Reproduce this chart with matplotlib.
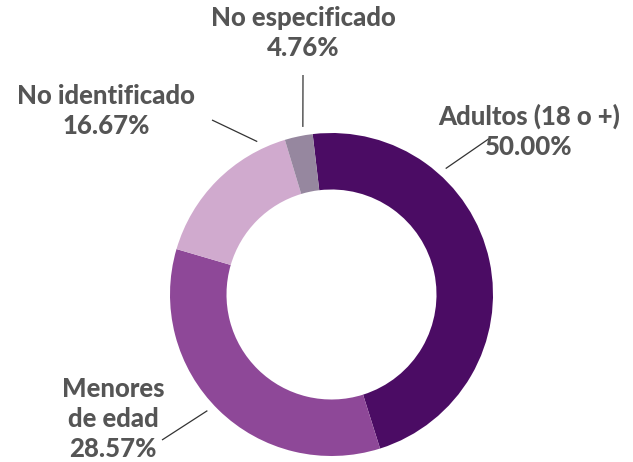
import numpy as np
import matplotlib
matplotlib.use('Agg')
import matplotlib.pyplot as plt

# data
categories = ['Adultos (18 o +)', 'Menores\nde edad', 'No identificado', 'No especificado']
pct_labels = ['50.00%', '28.57%', '16.67%', '4.76%']
# wedge sizes as drawn in the picture (they do not follow the labels exactly)
slice_sizes = [47.0, 34.4, 15.8, 2.8]
colors = ['#4b0c64', '#8e4898', '#d0aace', '#96879f']

W, H = 633, 462
fig = plt.figure(figsize=(W / 100, H / 100), dpi=100)
ax = fig.add_axes([0, 0, 1, 1])

cx, cy, r = 331.5, H - 294.5, 161.5
ax.pie(slice_sizes, colors=colors, startangle=96.7, counterclock=False,
       center=(cx, cy), radius=r, frame=True,
       wedgeprops=dict(width=r - 105, linewidth=0))
ax.set_xlim(0, W)
ax.set_ylim(0, H)
ax.set_aspect('equal')
ax.axis('off')

# label layout: text centre (px from top-left), leader line start, anchor angle on ring
label_pos = [(529, 131), (113, 419), (106, 111), (303, 33)]
line_start = [(490, 138), (162, 440), (212, 120), (303, 75)]
anchor_deg = [47.8, 223.1, 115.9, 99.7]

for name, pct, (tx, ty), (lx, ly), a in zip(categories, pct_labels, label_pos,
                                            line_start, anchor_deg):
    ax.text(tx, H - ty, f'{name}\n{pct}', ha='center', va='center',
            fontsize=18.5, fontweight='black', family='Lato', color='#555555',
            linespacing=1.3)
    ex = cx + 170 * np.cos(np.radians(a))
    ey = cy + 170 * np.sin(np.radians(a))
    ax.plot([lx, ex], [H - ly, ey], color='#333333', lw=0.9,
            solid_capstyle='butt')

fig.savefig('out.png', dpi=100)
